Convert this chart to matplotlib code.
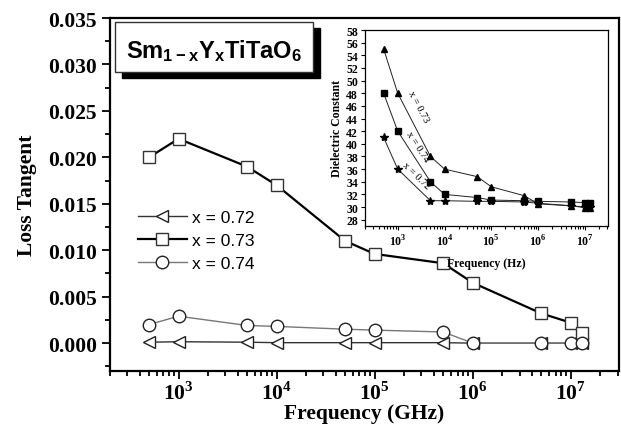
import matplotlib
matplotlib.use('Agg')
import matplotlib.pyplot as plt
from matplotlib.patches import Rectangle
from matplotlib.ticker import LogLocator, NullFormatter, FixedLocator, MultipleLocator

plt.rcParams['font.family'] = 'Liberation Serif'
plt.rcParams['font.weight'] = 'bold'
plt.rcParams['mathtext.fontset'] = 'custom'
plt.rcParams['mathtext.rm'] = 'Liberation Serif:bold'
plt.rcParams['mathtext.bf'] = 'Liberation Serif:bold'
plt.rcParams['mathtext.sf'] = 'Liberation Sans:bold'

# main plot: loss tangent vs frequency
freq = [500, 1000, 5000, 1e4, 5e4, 1e5, 5e5, 1e6, 5e6, 1e7, 1.3e7]
tan_072 = [0.0001, 0.00015, 0.0001, 0.00005, 0.00005, 0.00005, 0.00005, 0.0, 0.0, 0.0, 0.0]
tan_073 = [0.020, 0.022, 0.019, 0.017, 0.011, 0.0096, 0.0086, 0.0065, 0.0032, 0.0022, 0.0011]
tan_074 = [0.0020, 0.0029, 0.0019, 0.0018, 0.0015, 0.0014, 0.0012, 0.0, 0.0, 0.0, 0.0]

# inset: dielectric constant vs frequency
eps_072 = [41.0, 36.0, 31.0, 31.0, 30.9, 30.9, 30.8, 30.6, 30.2, 30.0, 30.0]
eps_073 = [55.0, 48.0, 38.0, 36.0, 34.8, 33.2, 31.8, 30.5, 30.2, 29.9, 29.8]
eps_074 = [48.0, 42.0, 34.0, 32.0, 31.5, 31.1, 31.0, 30.9, 30.8, 30.7, 30.7]

fig = plt.figure(figsize=(6.21, 4.31), dpi=100)
W, H = 621, 431

def fx(px):
    return px / W

def fy(py):
    return 1 - py / H

ax = fig.add_axes([fx(110), fy(372), fx(619) - fx(110), fy(19) - fy(372)])

ax.plot(freq, tan_072, color='#333333', lw=1.0, marker='<', ms=9, mfc='white',
        mec='#222222', mew=1.0, label='x = 0.72', zorder=3)
ax.plot(freq, tan_073, color='black', lw=1.6, marker='s', ms=9, mfc='white',
        mec='#333333', mew=1.0, label='x = 0.73', zorder=4)
ax.plot(freq, tan_074, color='#777777', lw=1.0, marker='o', ms=9, mfc='white',
        mec='#222222', mew=1.0, label='x = 0.74', zorder=5)

ax.set_xscale('log')
ax.set_xlim(200, 3.1e7)
ax.set_ylim(-0.003, 0.035)
ax.xaxis.set_major_locator(FixedLocator([1e3, 1e4, 1e5, 1e6, 1e7]))
ax.set_xticklabels([r'$10^{3}$', r'$10^{4}$', r'$10^{5}$', r'$10^{6}$', r'$10^{7}$'])
ax.xaxis.set_minor_locator(LogLocator(base=10, subs=range(2, 10), numticks=20))
ax.xaxis.set_minor_formatter(NullFormatter())
ax.yaxis.set_major_locator(MultipleLocator(0.005))
ax.yaxis.set_minor_locator(MultipleLocator(0.0025))
ax.yaxis.set_major_formatter(plt.FuncFormatter(lambda v, p: f'{v:.3f}'))
ax.tick_params(which='both', direction='out', top=False, right=False, labelsize=15.5, width=1.3)
ax.tick_params(which='major', length=6)
ax.tick_params(which='minor', length=3.5)
ax.tick_params(axis='x', pad=1.5)
for s in ax.spines.values():
    s.set_linewidth(1.6)

ax.set_xlabel('Frequency (GHz)', fontsize=15.5, fontweight='bold', labelpad=-1)
ax.set_ylabel('Loss Tangent', fontsize=15.5, fontweight='bold', labelpad=8)

ax.legend(loc='upper left', bbox_to_anchor=(fx(138), fy(211)), bbox_transform=fig.transFigure,
          frameon=False, prop={'family': 'Liberation Sans', 'weight': 'normal', 'size': 12.5},
          handlelength=2.8, handletextpad=0.3, labelspacing=0.45, borderpad=0, borderaxespad=0)

# title box with shadow
fig.patches.append(Rectangle((fx(122), fy(79)), fx(320) - fx(122), fy(29) - fy(79),
                             transform=fig.transFigure, facecolor='black', edgecolor='black', zorder=5))
fig.patches.append(Rectangle((fx(115), fy(73)), fx(313) - fx(115), fy(23) - fy(73),
                             transform=fig.transFigure, facecolor='white', edgecolor='#333333',
                             lw=1.0, zorder=6))
fig.text(fx(214), fy(51), r'$\mathsf{Sm_{1-x}Y_{x}TiTaO_{6}}$', fontsize=17,
         ha='center', va='center', zorder=7)

# inset
ins = fig.add_axes([fx(365), fy(227), fx(608) - fx(365), fy(31) - fy(227)])
ins.plot(freq, eps_072, color='#222222', lw=0.7, marker='*', ms=6, mfc='black', mec='black')
ins.plot(freq, eps_073, color='#222222', lw=0.7, marker='^', ms=5, mfc='black', mec='black')
ins.plot(freq, eps_074, color='#222222', lw=0.7, marker='s', ms=4.5, mfc='black', mec='black')
ins.set_xscale('log')
ins.set_xlim(200, 3.1e7)
ins.set_ylim(27, 58)
ins.xaxis.set_major_locator(FixedLocator([1e3, 1e4, 1e5, 1e6, 1e7]))
ins.set_xticklabels([r'$10^{3}$', r'$10^{4}$', r'$10^{5}$', r'$10^{6}$', r'$10^{7}$'])
ins.xaxis.set_minor_locator(LogLocator(base=10, subs=range(2, 10), numticks=20))
ins.xaxis.set_minor_formatter(NullFormatter())
ins.yaxis.set_major_locator(MultipleLocator(2))
ins.tick_params(which='both', direction='out', top=False, right=False, labelsize=8.5, width=0.8, pad=2)
ins.tick_params(which='major', length=3)
ins.tick_params(which='minor', length=2)
for s in ins.spines.values():
    s.set_linewidth(0.9)
ins.set_xlabel('Frequency (Hz)', fontsize=8.5, fontweight='bold', labelpad=6)
ins.set_ylabel('Dielectric Constant', fontsize=8.5, fontweight='bold', labelpad=2)

ins.text(2700, 46.0, 'x = 0.73', fontsize=7.5, fontweight='normal', rotation=-62,
         ha='center', va='center')
ins.text(2600, 39.6, 'x = 0.74', fontsize=7.5, fontweight='normal', rotation=-57,
         ha='center', va='center')
ins.text(2450, 35.0, 'x = 0.72', fontsize=7.5, fontweight='normal', rotation=-44,
         ha='center', va='center')

fig.savefig('out.png', dpi=100)
